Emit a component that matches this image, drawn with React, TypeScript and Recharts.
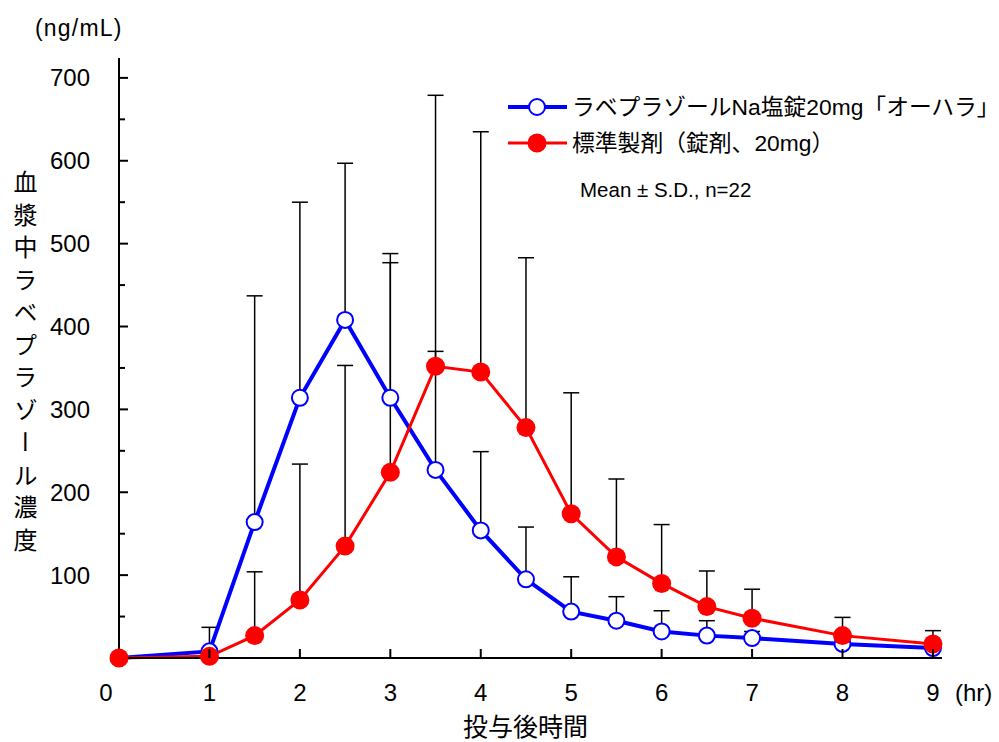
import React from "react";
import { LineChart, Line, XAxis, YAxis, ErrorBar } from "recharts";

// sampling times (hr)
const times = [0, 1, 1.5, 2, 2.5, 3, 3.5, 4, 4.5, 5, 5.5, 6, 6.5, 7, 8, 9];

// ラベプラゾールNa塩錠20mg「オーハラ」
const testMean = [0, 8, 164, 314, 408, 314, 227, 154, 95, 56, 45, 32, 27, 24, 17, 12];
const testSD = [0, 29, 273, 236, 189, 174, 143, 95, 63, 42, 29, 25, 18, 8, 6, 5];

// 標準製剤（錠剤、20mg）
const refMean = [0, 2, 27, 70, 135, 224, 352, 345, 278, 174, 122, 90, 62, 48, 27, 17];
const refSD = [0, 3, 77, 164, 218, 253, 327, 290, 205, 146, 94, 71, 43, 35, 22, 16];

const xTicks = [0, 1, 2, 3, 4, 5, 6, 7, 8, 9];
const yTicks = [0, 50, 100, 150, 200, 250, 300, 350, 400, 450, 500, 550, 600, 650, 700];

const yTitle = "血漿中ラベプラゾール濃度";
const legendTest = "ラベプラゾールNa塩錠20mg「オーハラ」";
const legendRef = "標準製剤（錠剤、20mg）";

const data = times.map((t, i) => ({
  t,
  test: testMean[i],
  testErr: [0, testSD[i]],
  ref: refMean[i],
  refErr: [0, refSD[i]],
}));

const FONT = '"Liberation Sans", Arial, "Noto Sans CJK JP", sans-serif';

const XTick = (props: any) => {
  const { x, y, payload } = props;
  const v = payload.value;
  return (
    <g>
      {v !== 0 && <line x1={x} x2={x} y1={y} y2={y - 9} stroke="#000" strokeWidth={2} />}
      <text x={v === 0 ? x - 13 : x} y={y + 43} textAnchor="middle" fontSize={24} fill="#000" fontFamily={FONT}>
        {v}
      </text>
    </g>
  );
};

const YTick = (props: any) => {
  const { x, y, payload } = props;
  const v = payload.value;
  const major = v % 100 === 0;
  return (
    <g>
      {v !== 0 && <line x1={x} x2={x + (major ? 9 : 6)} y1={y} y2={y} stroke="#000" strokeWidth={2} />}
      {major && v > 0 && (
        <text x={x - 29} y={y + 8.5} textAnchor="end" fontSize={24} fill="#000" fontFamily={FONT}>
          {v}
        </text>
      )}
    </g>
  );
};

export default function App() {
  return (
    <div style={{ position: "absolute", left: 0, top: 0, width: 999, height: 742, background: "#fff", fontFamily: FONT }}>
      <LineChart width={999} height={742} data={data} margin={{ top: 58, right: 57, left: 49, bottom: 44 }}>
        <XAxis
          dataKey="t"
          type="number"
          domain={[0, 9.1]}
          ticks={xTicks}
          tickSize={0}
          tickMargin={0}
          tick={<XTick />}
          axisLine={{ stroke: "#000", strokeWidth: 2 }}
          height={40}
        />
        <YAxis
          type="number"
          domain={[0, 724]}
          ticks={yTicks}
          tickSize={0}
          tickMargin={0}
          tick={<YTick />}
          axisLine={{ stroke: "#000", strokeWidth: 2 }}
          width={70}
        />
        {/* reference error bars drawn first so the test markers sit on top */}
        <Line dataKey="ref" stroke="none" dot={false} activeDot={false} isAnimationActive={false}>
          <ErrorBar dataKey="refErr" direction="y" width={8} stroke="#000" strokeWidth={1.5} />
        </Line>
        <Line
          dataKey="test"
          stroke="#0000ff"
          strokeWidth={4}
          dot={{ r: 8, fill: "#fff", stroke: "#0000ff", strokeWidth: 2 }}
          activeDot={false}
          isAnimationActive={false}
        >
          <ErrorBar dataKey="testErr" direction="y" width={8} stroke="#000" strokeWidth={1.5} />
        </Line>
        <Line
          dataKey="ref"
          stroke="#ff0000"
          strokeWidth={3}
          dot={{ r: 9.5, fill: "#ff0000", stroke: "#ff0000", strokeWidth: 0 }}
          activeDot={false}
          isAnimationActive={false}
        />
      </LineChart>

      <div style={{ position: "absolute", left: 35, top: 13, fontSize: 23, lineHeight: "30px", letterSpacing: 1.2, whiteSpace: "nowrap" }}>
        (ng/mL)
      </div>

      <div
        style={{
          position: "absolute",
          left: 12,
          top: 170,
          writingMode: "vertical-rl",
          fontSize: 24,
          letterSpacing: 8.5,
          lineHeight: "26px",
          fontFamily: '"Noto Sans CJK JP", sans-serif',
        }}
      >
        {yTitle}
      </div>

      <div style={{ position: "absolute", left: 955, top: 679, fontSize: 24, lineHeight: "28px" }}>(hr)</div>
      <div
        style={{
          position: "absolute",
          left: 463,
          top: 709,
          fontSize: 25,
          lineHeight: "32px",
          fontFamily: '"Noto Sans CJK JP", sans-serif',
        }}
      >
        投与後時間
      </div>

      <svg style={{ position: "absolute", left: 0, top: 0 }} width={999} height={742} pointerEvents="none">
        <line x1={508} x2={567} y1={107} y2={107} stroke="#0000ff" strokeWidth={4} />
        <circle cx={537} cy={107} r={8} fill="#fff" stroke="#0000ff" strokeWidth={2} />
        <line x1={508} x2={567} y1={143} y2={143} stroke="#ff0000" strokeWidth={3} />
        <circle cx={537} cy={143} r={9.5} fill="#ff0000" />
      </svg>
      <div style={{ position: "absolute", left: 572, top: 92, fontSize: 22.8, lineHeight: "30px", whiteSpace: "nowrap" }}>
        {legendTest}
      </div>
      <div style={{ position: "absolute", left: 572, top: 128, fontSize: 22.8, lineHeight: "30px", whiteSpace: "nowrap" }}>
        {legendRef}
      </div>
      <div style={{ position: "absolute", left: 580, top: 177, fontSize: 20.5, lineHeight: "26px", whiteSpace: "nowrap" }}>
        Mean ± S.D., n=22
      </div>
    </div>
  );
}
